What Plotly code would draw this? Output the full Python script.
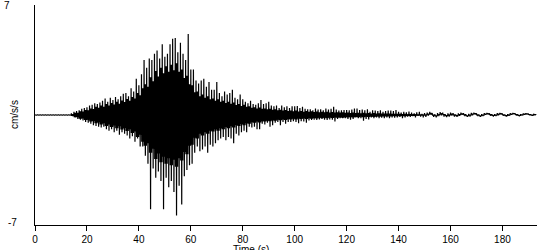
import plotly.graph_objects as go

# Per-second values (cm/s/s) read from the record, seconds 0..192
second = list(range(193))
# largest positive swing in each second
peak_max = [
    0.03, 0.03, 0.03, 0.03, 0.03, 0.03, 0.03, 0.03, 0.03, 0.03, 0.03, 0.03, 0.03, 0.03,
    0.10, 0.20, 0.25, 0.30, 0.40, 0.45, 0.50, 0.60, 0.65, 0.75, 0.70, 0.80, 0.90, 1.05,
    0.85, 1.10, 0.95, 1.15, 1.00, 1.20, 1.35, 1.40, 1.20, 1.70, 1.50, 2.30, 1.90, 2.60,
    3.50, 3.00, 3.60, 3.50, 3.90, 4.10, 3.60, 4.50, 3.70, 3.90, 4.50, 4.85, 4.90, 4.00,
    4.60, 3.90, 3.50, 5.15, 2.90, 2.90, 2.20, 2.00, 2.20, 2.30, 1.80, 2.10, 1.60, 1.60,
    2.10, 1.40, 1.20, 1.50, 1.30, 1.40, 1.60, 1.10, 1.00, 1.30, 1.00, 0.85, 0.75, 0.90,
    0.70, 0.65, 0.75, 0.95, 0.70, 0.75, 0.85, 0.60, 0.55, 0.60, 0.45, 0.60, 0.50, 0.55,
    0.45, 0.55, 0.55, 0.57, 0.45, 0.53, 0.40, 0.36, 0.36, 0.30, 0.42, 0.35, 0.36, 0.30,
    0.42, 0.35, 0.40, 0.53, 0.35, 0.28, 0.30, 0.32, 0.32, 0.30, 0.35, 0.42, 0.42, 0.32,
    0.35, 0.30, 0.36, 0.21, 0.30, 0.28, 0.25, 0.30, 0.21, 0.25, 0.28, 0.28, 0.25, 0.32,
    0.20, 0.15, 0.21, 0.18, 0.22, 0.15, 0.10, 0.18, 0.20, 0.08, 0.12, 0.15, 0.20, 0.10,
    0.05, 0.12, 0.18, 0.15, 0.05, 0.10, 0.16, 0.12, 0.04, 0.10, 0.15, 0.12, 0.02, 0.08,
    0.14, 0.16, 0.10, 0.02, 0.06, 0.12, 0.14, 0.10, 0.04, 0.06, 0.12, 0.14, 0.08, 0.02,
    0.06, 0.12, 0.14, 0.08, 0.02, 0.06, 0.10, 0.12, 0.08, 0.04, 0.08,
]
# largest negative swing in each second
peak_min = [
    -0.03, -0.03, -0.03, -0.03, -0.03, -0.03, -0.03, -0.03, -0.03, -0.03, -0.03, -0.03, -0.03, -0.03,
    -0.08, -0.15, -0.25, -0.30, -0.35, -0.45, -0.50, -0.55, -0.65, -0.70, -0.75, -0.80, -0.75, -0.90,
    -1.00, -0.90, -1.10, -1.00, -1.25, -1.10, -1.20, -1.30, -1.50, -1.35, -1.70, -1.50, -2.00, -2.00,
    -2.60, -3.10, -6.00, -3.40, -4.00, -3.60, -4.20, -6.00, -4.00, -4.60, -4.20, -4.90, -6.40, -4.50,
    -5.70, -3.90, -3.50, -3.20, -3.10, -2.40, -2.00, -2.30, -2.20, -2.00, -2.40, -1.90, -2.00, -1.80,
    -1.60, -1.50, -1.40, -1.60, -1.40, -1.50, -1.80, -1.20, -1.30, -1.10, -1.00, -1.10, -0.75, -0.80,
    -0.75, -0.90, -0.90, -0.55, -0.60, -0.50, -0.75, -0.65, -0.50, -0.45, -0.65, -0.45, -0.55, -0.45,
    -0.45, -0.40, -0.45, -0.53, -0.40, -0.42, -0.49, -0.35, -0.32, -0.30, -0.32, -0.28, -0.25, -0.30,
    -0.32, -0.28, -0.30, -0.42, -0.25, -0.21, -0.20, -0.21, -0.25, -0.30, -0.25, -0.15, -0.20, -0.21,
    -0.36, -0.25, -0.28, -0.15, -0.20, -0.15, -0.20, -0.18, -0.21, -0.15, -0.20, -0.15, -0.18, -0.15,
    -0.12, -0.20, -0.15, -0.10, -0.12, -0.08, -0.15, -0.05, -0.10, -0.15, -0.12, -0.05, 0.00, -0.12,
    -0.15, -0.08, -0.02, -0.10, -0.14, -0.10, -0.04, -0.10, -0.12, -0.06, 0.00, -0.08, -0.12, -0.10,
    -0.02, 0.02, -0.08, -0.12, -0.08, 0.00, 0.02, -0.06, -0.10, -0.08, -0.02, 0.02, -0.06, -0.10,
    -0.06, 0.00, 0.04, -0.04, -0.08, -0.04, 0.00, 0.02, -0.02, -0.06, -0.02,
]
# half-width of the dense (solid black) band in each second
core_amp = [
    0.02, 0.02, 0.02, 0.02, 0.02, 0.02, 0.02, 0.02, 0.02, 0.02, 0.02, 0.02, 0.02, 0.02,
    0.06, 0.14, 0.14, 0.24, 0.22, 0.32, 0.30, 0.42, 0.38, 0.52, 0.46, 0.60, 0.52, 0.70,
    0.60, 0.76, 0.66, 0.84, 0.72, 0.92, 0.82, 1.02, 0.90, 1.15, 1.05, 1.40, 1.25, 1.70,
    1.95, 1.80, 2.40, 2.15, 2.80, 2.45, 3.00, 2.65, 3.10, 2.75, 3.20, 2.85, 3.30, 2.75,
    2.90, 2.35, 2.50, 1.95, 1.90, 1.45, 1.50, 1.20, 1.30, 1.10, 1.20, 1.00, 1.05, 0.90,
    1.00, 0.85, 0.90, 0.76, 0.85, 0.72, 0.80, 0.64, 0.70, 0.58, 0.65, 0.52, 0.56, 0.46,
    0.50, 0.42, 0.48, 0.40, 0.42, 0.36, 0.40, 0.34, 0.36, 0.30, 0.34, 0.28, 0.31, 0.26,
    0.29, 0.24, 0.28, 0.22, 0.26, 0.21, 0.25, 0.20, 0.23, 0.19, 0.22, 0.18, 0.21, 0.17,
    0.20, 0.16, 0.19, 0.15, 0.18, 0.15, 0.17, 0.14, 0.16, 0.13, 0.15, 0.12, 0.14, 0.11,
    0.14, 0.11, 0.13, 0.10, 0.12, 0.10, 0.11, 0.09, 0.10, 0.09, 0.09, 0.08, 0.08, 0.07,
    0.08, 0.06, 0.07, 0.05, 0.06, 0.05, 0.05, 0.04, 0.04, 0.03, 0.03, 0.03, 0.03, 0.03,
    0.03, 0.03, 0.03, 0.03, 0.03, 0.03, 0.03, 0.03, 0.03, 0.03, 0.03, 0.03, 0.03, 0.03,
    0.03, 0.03, 0.03, 0.03, 0.03, 0.03, 0.03, 0.03, 0.03, 0.03, 0.03, 0.03, 0.03, 0.03,
    0.03, 0.03, 0.03, 0.03, 0.03, 0.03, 0.03, 0.03, 0.03, 0.03, 0.03,
]
y_tick_labels = ["7", "-7"]
x_tick_values = [0, 20, 40, 60, 80, 100, 120, 140, 160, 180]

# Lay each second out as 10 samples: the positive peak, the dense band,
# the negative peak half way through, then the dense band again.
t = []
acc = []
for s, hi, lo, c in zip(second, peak_max, peak_min, core_amp):
    mid = (hi + lo) / 2 if s > 150 else 0.0
    seq = [hi, mid - c, mid + c, mid - c, mid + c, lo, mid + c, mid - c, mid + c, mid - c]
    for k, v in enumerate(seq):
        t.append(s + k / 10)
        acc.append(v)

FONT = "Liberation Sans, Arial, sans-serif"

fig = go.Figure()
fig.add_trace(go.Scatter(
    x=t, y=acc, mode="lines",
    line=dict(color="black", width=1.2, simplify=False),
    hoverinfo="skip", showlegend=False,
))

fig.update_layout(
    width=550, height=250,
    margin=dict(l=35, r=13, t=5, b=25),
    paper_bgcolor="white", plot_bgcolor="white",
    font=dict(family=FONT, size=10, color="black"),
    xaxis=dict(
        range=[0, 193.3], showgrid=False, zeroline=False,
        showline=True, linecolor="black", linewidth=1,
        ticks="outside", ticklen=5, tickcolor="black", tickwidth=1,
        tickvals=x_tick_values, ticktext=[str(v) for v in x_tick_values],
        tickfont=dict(family=FONT, size=10, color="black"),
    ),
    yaxis=dict(
        range=[-7, 7], showgrid=False, zeroline=False,
        showline=True, linecolor="black", linewidth=1,
        ticks="", showticklabels=False,
    ),
    annotations=[
        dict(text=y_tick_labels[0], xref="paper", yref="y", x=0, y=7,
             xshift=-28, yshift=0, showarrow=False, xanchor="center", yanchor="middle",
             font=dict(family=FONT, size=10, color="black")),
        dict(text=y_tick_labels[1], xref="paper", yref="y", x=0, y=-7,
             xshift=-23, yshift=3, showarrow=False, xanchor="center", yanchor="middle",
             font=dict(family=FONT, size=10, color="black")),
        dict(text="cm/s/s", xref="paper", yref="paper", x=0, y=0.5,
             xshift=-21, showarrow=False, textangle=-90, xanchor="center", yanchor="middle",
             font=dict(family=FONT, size=10, color="black")),
        dict(text="Time (s)", xref="paper", yref="paper", x=(251 - 35) / 502, y=0,
             yshift=-17, showarrow=False, xanchor="center", yanchor="top",
             font=dict(family=FONT, size=10, color="black")),
    ],
)

fig.write_html("out.html")
